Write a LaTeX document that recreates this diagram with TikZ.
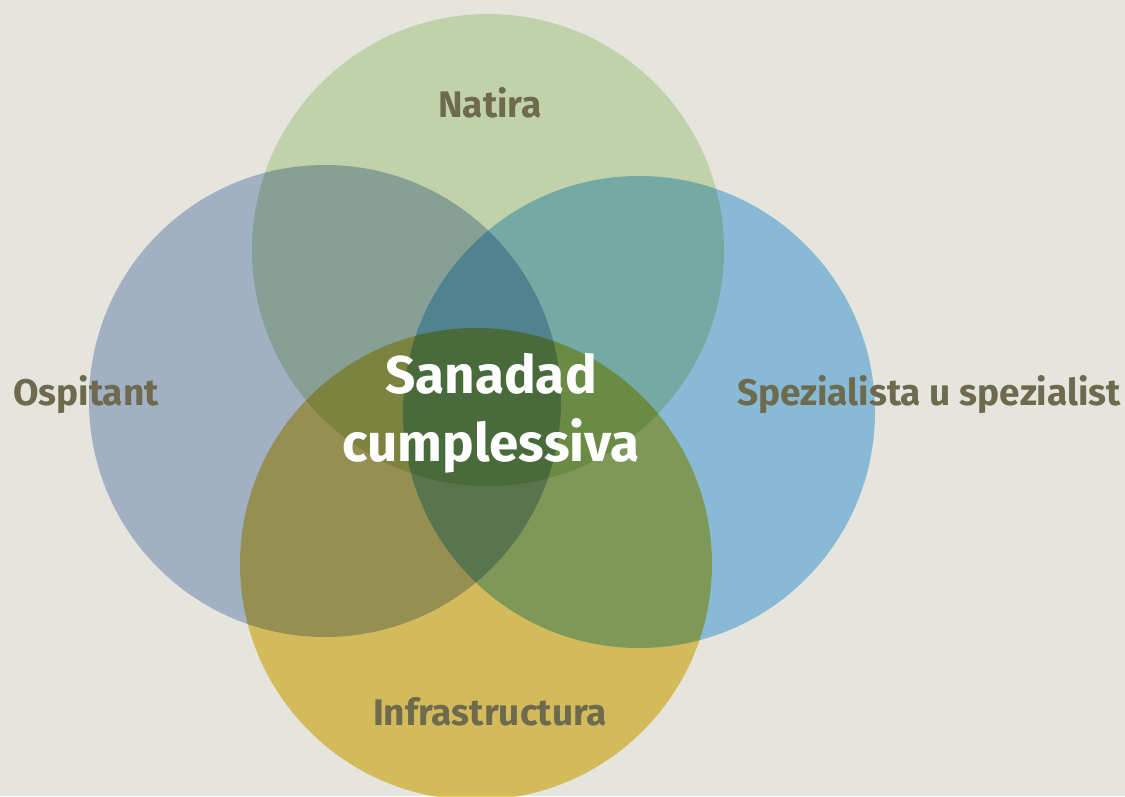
\documentclass[tikz,border=0pt]{standalone}
\usepackage{fontspec}
\setmainfont{Fira Sans}
\definecolor{bgpaper}{RGB}{230,229,221}
\definecolor{natgreen}{RGB}{214,233,196}
\definecolor{ospgrey}{RGB}{180,196,227}
\definecolor{spezblue}{RGB}{152,208,246}
\definecolor{infyellow}{RGB}{235,209,106}
\definecolor{labelolive}{RGB}{109,106,78}

\begin{document}
\begin{tikzpicture}
[x=1pt,y=-1pt,
  circledecorate/.style={blend mode=multiply},%
  labeldecorate/.style={text=labelolive,font=\bfseries\fontsize{37}{42}\selectfont},%
  titledecorate/.style={text=white,align=center,font=\bfseries\fontsize{53}{68}\selectfont}]
\fill[bgpaper] (0,0) rectangle (1125,796);
\useasboundingbox (0,0) rectangle (1125,796);
\clip (0,0) rectangle (1125,796);
%% circles
\foreach \circname/\x/\y/\colour in {osp/325/401/ospgrey,
  nat/488/250/natgreen, spez/639/412/spezblue, infra/476/564/infyellow} {
  \coordinate (\circname) at (\x,\y);
  \fill[circledecorate,\colour] (\circname) circle (236);
}
%% labels
\node (natira) at (490,103) [labeldecorate] {Natira};
\node (ospitant) at (86,395) [labeldecorate] {Ospitant};
\node (spezialist) at (929,395) [labeldecorate] {Spezialista u spezialist};
\node (infrastructura) at (490,712) [labeldecorate] {Infrastructura};
\node (sanadad) at (491,413) [titledecorate] {Sanadad\\cumplessiva};
\end{tikzpicture}
\end{document}
